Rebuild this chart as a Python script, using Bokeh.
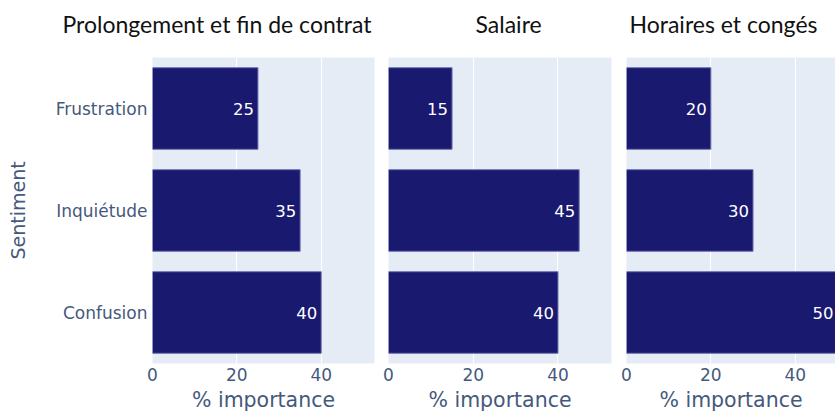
from bokeh.plotting import figure
from bokeh.layouts import row
from bokeh.models import FactorRange, Range1d, FixedTicker, ColumnDataSource, LinearAxis, Title
from bokeh.core.properties import value
from bokeh.embed import file_html
from bokeh.resources import INLINE

# ---- data ----
sentiments = ["Frustration", "Inquiétude", "Confusion"]
themes = ["Prolongement et fin de contrat", "Salaire", "Horaires et congés"]
prolongement = [25, 35, 40]
salaire = [15, 45, 40]
horaires = [20, 30, 50]
x_ticks = [0, 20, 40]
x_title = "% importance"
y_title = "Sentiment"

series = [prolongement, salaire, horaires]

# ---- style / layout ----
BAR = "#191970"
BG = "#E5ECF6"
TICK_COLOR = "#45597c"
FONT = "DejaVu Sans"
TITLE_FONT = "Lato"

x_ends = [52.63, 52.63, 49.55]
borders = [(152, 7), (7, 7), (8, 0)]
frame_w = [222, 223, 209]
title_offsets = [-90, 87, 3]
H = 415
TOP = 57
FRAME_H = 306

figs = []
for i, (theme, vals) in enumerate(zip(themes, series)):
    left, right = borders[i]
    p = figure(
        width=left + frame_w[i] + right, height=H, title=None,
        y_range=FactorRange(*reversed(sentiments)),
        x_range=Range1d(0, x_ends[i]),
        output_backend="svg", toolbar_location=None,
        y_axis_location="left" if i == 0 else None,
        min_border_left=left, min_border_right=right,
        min_border_top=TOP, min_border_bottom=H - TOP - FRAME_H,
    )
    p.background_fill_color = BG
    p.border_fill_color = "white"
    p.outline_line_color = None

    src = ColumnDataSource(dict(sentiment=sentiments, value=vals,
                                label=[str(v) for v in vals]))
    p.hbar(y="sentiment", right="value", height=0.8, source=src,
           fill_color=BAR, line_color="#6d72b0", line_width=1)
    p.text(x="value", y="sentiment", text="label", source=src,
           x_offset=-4, text_align="right", text_baseline="middle",
           text_color="white", text_font=value(FONT), text_font_size="16.5px")

    # invisible axis above, used only as a spacer that lifts the panel title
    spacer = LinearAxis(ticker=FixedTicker(ticks=[0]), major_label_overrides={0: ""},
                        major_tick_out=20, major_tick_in=0, major_label_standoff=0,
                        axis_line_color=None, major_tick_line_color=None,
                        minor_tick_line_color=None, minor_tick_out=0)
    p.add_layout(spacer, "above")
    p.add_layout(Title(text=theme, align="left", offset=title_offsets[i],
                       vertical_align="bottom", text_font=TITLE_FONT,
                       text_font_size="23px", text_font_style="normal",
                       text_color="#111111", standoff=0), "above")

    xa = p.below[0]
    xa.ticker = FixedTicker(ticks=x_ticks)
    xa.axis_label = x_title
    xa.axis_label_text_font = FONT
    xa.axis_label_text_font_size = "20.5px"
    xa.axis_label_text_font_style = "normal"
    xa.axis_label_text_color = TICK_COLOR
    xa.axis_label_standoff = 4
    xa.major_label_text_font = FONT
    xa.major_label_text_font_size = "17px"
    xa.major_label_text_color = TICK_COLOR
    xa.major_label_standoff = 4
    xa.major_tick_out = 0
    xa.major_tick_in = 0
    xa.axis_line_color = None
    xa.major_tick_line_color = None
    xa.minor_tick_line_color = None

    if i == 0:
        ya = p.left[0]
        ya.axis_label = y_title
        ya.axis_label_text_font = FONT
        ya.axis_label_text_font_size = "19px"
        ya.axis_label_text_font_style = "normal"
        ya.axis_label_text_color = TICK_COLOR
        ya.axis_label_standoff = 24
        ya.major_label_text_font = FONT
        ya.major_label_text_font_size = "17px"
        ya.major_label_text_color = TICK_COLOR
        ya.major_label_standoff = 5
        ya.major_tick_out = 0
        ya.major_tick_in = 0
        ya.axis_line_color = None
        ya.major_tick_line_color = None
        ya.minor_tick_line_color = None

    p.xgrid.grid_line_color = "white"
    p.xgrid.grid_line_width = 1
    p.ygrid.grid_line_color = None
    figs.append(p)

layout = row(*figs)
open("out.html", "w").write(file_html(layout, INLINE))
